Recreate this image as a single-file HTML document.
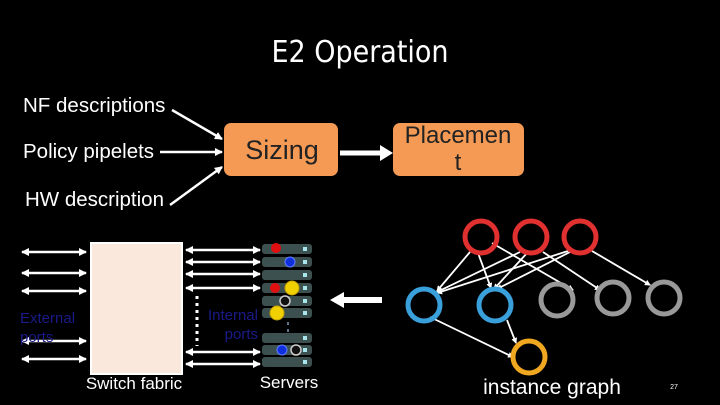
<!DOCTYPE html>
<html><head><meta charset="utf-8"><style>
html,body{margin:0;padding:0;background:#000;}
svg{display:block;}
text{font-family:"Liberation Sans",Arial,sans-serif;}
</style></head><body>
<svg width="720" height="405" viewBox="0 0 720 405" xmlns="http://www.w3.org/2000/svg">
<defs>
<marker id="ah" markerWidth="8" markerHeight="8" refX="7" refY="4" orient="auto" markerUnits="userSpaceOnUse"><path d="M0,0 L8,4 L0,8 Z" fill="#fff"/></marker>
<marker id="ah2" markerWidth="8" markerHeight="8" refX="7" refY="4" orient="auto-start-reverse" markerUnits="userSpaceOnUse"><path d="M0,0 L8,4 L0,8 Z" fill="#fff"/></marker>
<marker id="ahs" markerWidth="6" markerHeight="6" refX="5" refY="3" orient="auto" markerUnits="userSpaceOnUse"><path d="M0,0 L6,3 L0,6 Z" fill="#fff"/></marker>
</defs>
<rect width="720" height="405" fill="#000"/>
<text x="360" y="62" font-size="30" fill="#fff" text-anchor="middle" style="font-family:'DejaVu Sans Condensed','DejaVu Sans',sans-serif">E2 Operation</text>

<text x="23" y="112" font-size="20.5" fill="#fff">NF descriptions</text>
<text x="23" y="158" font-size="20.5" fill="#fff">Policy pipelets</text>
<text x="25" y="206" font-size="20.5" fill="#fff">HW description</text>
<g stroke="#fff" stroke-width="2.5" fill="none">
<line x1="172" y1="110" x2="222" y2="139" marker-end="url(#ah)"/>
<line x1="160" y1="152" x2="222" y2="152" marker-end="url(#ah)"/>
<line x1="170" y1="205" x2="222" y2="167" marker-end="url(#ah)"/>
</g>
<rect x="224" y="123" width="114" height="53" rx="7" fill="#f49a55"/>
<text x="282" y="159" font-size="27" fill="#222" text-anchor="middle">Sizing</text>
<line x1="340" y1="153" x2="382" y2="153" stroke="#fff" stroke-width="5"/>
<path d="M380,145 L393,153 L380,161 Z" fill="#fff"/>
<rect x="393" y="123" width="131" height="53" rx="7" fill="#f49a55"/>
<text x="458" y="143" font-size="24" fill="#222" text-anchor="middle">Placemen</text>
<text x="458" y="170" font-size="24" fill="#222" text-anchor="middle">t</text>

<!-- switch fabric -->
<rect x="91" y="243" width="91" height="131" fill="#fbe8dc" stroke="#fff" stroke-width="2"/>
<g stroke="#fff" stroke-width="2.5" fill="none">
<line x1="22" y1="252" x2="86" y2="252" marker-start="url(#ah2)" marker-end="url(#ah2)"/>
<line x1="22" y1="273" x2="86" y2="273" marker-start="url(#ah2)" marker-end="url(#ah2)"/>
<line x1="22" y1="291" x2="86" y2="291" marker-start="url(#ah2)" marker-end="url(#ah2)"/>
<line x1="22" y1="341" x2="86" y2="341" marker-start="url(#ah2)" marker-end="url(#ah2)"/>
<line x1="22" y1="359" x2="86" y2="359" marker-start="url(#ah2)" marker-end="url(#ah2)"/>
<line x1="186" y1="250" x2="260" y2="250" marker-start="url(#ah2)" marker-end="url(#ah2)"/>
<line x1="186" y1="262" x2="260" y2="262" marker-start="url(#ah2)" marker-end="url(#ah2)"/>
<line x1="186" y1="274" x2="260" y2="274" marker-start="url(#ah2)" marker-end="url(#ah2)"/>
<line x1="186" y1="288" x2="260" y2="288" marker-start="url(#ah2)" marker-end="url(#ah2)"/>
<line x1="186" y1="352" x2="260" y2="352" marker-start="url(#ah2)" marker-end="url(#ah2)"/>
<line x1="186" y1="364" x2="260" y2="364" marker-start="url(#ah2)" marker-end="url(#ah2)"/>
</g>
<line x1="197" y1="296" x2="197" y2="346" stroke="#fff" stroke-width="3" stroke-dasharray="3,4"/>
<text x="20" y="323" font-size="15" fill="#1a1a8a">External</text>
<text x="20" y="342" font-size="15" fill="#1a1a8a">ports</text>
<text x="258" y="320" font-size="15" fill="#1a1a8a" text-anchor="end">Internal</text>
<text x="258" y="339" font-size="15" fill="#1a1a8a" text-anchor="end">ports</text>
<text x="134" y="389" font-size="17" fill="#fff" text-anchor="middle">Switch fabric</text>
<text x="289" y="388" font-size="17" fill="#fff" text-anchor="middle">Servers</text>

<!-- servers -->
<g fill="#3d5050">
<rect x="262" y="244" width="50" height="10" rx="3"/>
<rect x="262" y="257" width="50" height="10" rx="3"/>
<rect x="262" y="270" width="50" height="10" rx="3"/>
<rect x="262" y="283" width="50" height="10" rx="3"/>
<rect x="262" y="296" width="50" height="10" rx="3"/>
<rect x="262" y="308" width="50" height="10" rx="3"/>
<rect x="262" y="333" width="50" height="10" rx="3"/>
<rect x="262" y="345" width="50" height="10" rx="3"/>
<rect x="262" y="357" width="50" height="10" rx="3"/>
</g>
<g fill="#a8e6ec">
<rect x="303" y="247" width="4" height="4"/><rect x="303" y="260" width="4" height="4"/>
<rect x="303" y="273" width="4" height="4"/><rect x="303" y="286" width="4" height="4"/>
<rect x="303" y="299" width="4" height="4"/><rect x="303" y="311" width="4" height="4"/>
<rect x="303" y="336" width="4" height="4"/><rect x="303" y="348" width="4" height="4"/>
<rect x="303" y="360" width="4" height="4"/>
</g>
<circle cx="276" cy="248" r="5" fill="#e01010"/>
<circle cx="290" cy="262" r="5" fill="#1030e0" stroke="#6080ff"/>
<circle cx="275" cy="288" r="5" fill="#e01010"/>
<circle cx="292" cy="288" r="7" fill="#f0d000" stroke="#c0a000"/>
<circle cx="285" cy="301" r="5" fill="#111" stroke="#ccc" stroke-width="1.5"/>
<circle cx="277" cy="313" r="7" fill="#f0d000" stroke="#c0a000"/>
<circle cx="282" cy="350" r="5" fill="#1030e0" stroke="#6080ff"/>
<circle cx="296" cy="350" r="5" fill="#111" stroke="#ccc" stroke-width="1.5"/>
<rect x="287" y="322" width="2" height="3" fill="#607090"/><rect x="287" y="329" width="2" height="3" fill="#607090"/>

<!-- big arrow -->
<line x1="342" y1="300" x2="382" y2="300" stroke="#fff" stroke-width="6"/>
<path d="M344,292 L330,300 L344,308 Z" fill="#fff"/>

<!-- instance graph edges -->
<g stroke="#fff" stroke-width="1.8" fill="none" marker-end="url(#ahs)">
<line x1="470" y1="252" x2="437" y2="291"/>
<line x1="478" y1="253" x2="491" y2="288"/>
<line x1="492" y1="243" x2="573" y2="290"/>
<line x1="520" y1="252" x2="437" y2="292"/>
<line x1="528" y1="252" x2="494" y2="289"/>
<line x1="543" y1="252" x2="600" y2="290"/>
<line x1="568" y1="251" x2="437" y2="293"/>
<line x1="570" y1="252" x2="497" y2="289"/>
<line x1="592" y1="251" x2="650" y2="285"/>
<line x1="430" y1="317" x2="513" y2="357"/>
<line x1="507" y1="320" x2="516" y2="343"/>
</g>
<g fill="none" stroke-width="5">
<circle cx="481" cy="237" r="16" stroke="#e03030"/>
<circle cx="531" cy="237" r="16" stroke="#e03030"/>
<circle cx="580" cy="237" r="16" stroke="#e03030"/>
<circle cx="424" cy="305" r="16" stroke="#3aa0dc"/>
<circle cx="495" cy="305" r="16" stroke="#3aa0dc"/>
<circle cx="557" cy="300" r="16" stroke="#999"/>
<circle cx="613" cy="298" r="16" stroke="#999"/>
<circle cx="664" cy="298" r="16" stroke="#999"/>
<circle cx="529" cy="357" r="16" stroke="#f0a820"/>
</g>
<text x="552" y="394" font-size="21" fill="#fff" text-anchor="middle">instance graph</text>
<text x="674" y="389" font-size="7" fill="#fff" text-anchor="middle">27</text>
</svg>
</body></html>
